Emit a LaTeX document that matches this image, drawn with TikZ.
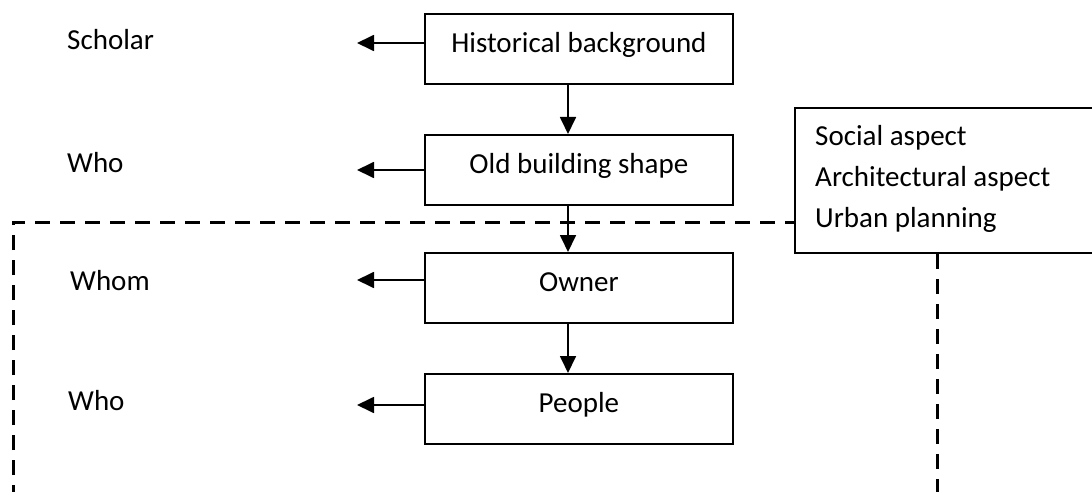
\documentclass[tikz,border=0pt]{standalone}
\usepackage{fontspec}
\setmainfont{Carlito}
\usetikzlibrary{arrows.meta}
\begin{document}
\begin{tikzpicture}[x=1pt,y=-1pt,
  font=\fontsize{29}{41}\selectfont,
  stepbox/.style={draw,line width=1.8pt,rectangle,anchor=north west,
    minimum width=308pt,minimum height=70pt,inner sep=0pt,
    text height=20pt,text depth=12pt},
  sidelabel/.style={anchor=base west,inner sep=0pt},
  arr/.style={line width=1.8pt,-{Triangle[length=17pt,width=16pt]}},
  dashline/.style={line width=3pt,dash pattern=on 15pt off 10pt}]
\clip (0,0) rectangle (1092,492);

% main chain of boxes
\node[stepbox] (b1) at (424,13)  {Historical background};
\node[stepbox] (b2) at (424,134) {Old building shape};
\node[stepbox] (b3) at (424,252) {Owner};
\node[stepbox] (b4) at (424,373) {People};

% question labels on the left
\node[sidelabel] (l1) at (67,50)  {Scholar};
\node[sidelabel] (l2) at (67,172) {Who};
\node[sidelabel] (l3) at (70,290) {Whom};
\node[sidelabel] (l4) at (68,410) {Who};

% aspects box on the right (runs off the page edge)
\node[draw,line width=1.8pt,anchor=north west,inner sep=0pt,
  minimum width=320pt,minimum height=145pt] (aspects) at (794,107) {};
% base anchor of a multi-line node sits on its last line
\node[anchor=base west,inner sep=0pt,align=left] (aspectstext) at (815,227)
  {Social aspect\\Architectural aspect\\Urban planning};

% arrow ends and guide coordinates
\coordinate (t1) at (357,43);
\coordinate (t2) at (357,170);
\coordinate (t3) at (357,280);
\coordinate (t4) at (357,405);
\coordinate (c)  at (568,0);
\coordinate (dl) at (13,500);
\coordinate (dt) at (0,222);
\coordinate (dr) at (937,500);

% arrows to the labels
\draw[arr] (b1.west |- t1) -- (t1);
\draw[arr] (b2.west |- t2) -- (t2);
\draw[arr] (b3.west |- t3) -- (t3);
\draw[arr] (b4.west |- t4) -- (t4);

% downward flow
\draw[arr] (b1.south -| c) -- (b2.north -| c);
\draw[arr] (b2.south -| c) -- (b3.north -| c);
\draw[arr] (b3.south -| c) -- (b4.north -| c);

% dashed boundary
\draw[dashline] (dl) -- (dl |- dt) -- (aspects.west |- dt);
\draw[dashline] (aspects.south -| dr) -- (dr);
\end{tikzpicture}
\end{document}
